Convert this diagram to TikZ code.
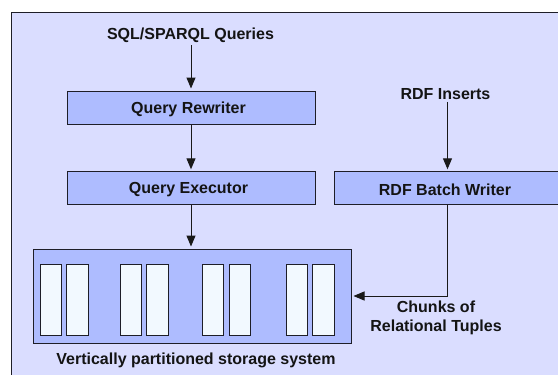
\documentclass[tikz,border=0pt]{standalone}
\usepackage{fontspec}
\setmainfont{Liberation Sans}
\usetikzlibrary{arrows.meta,positioning}
\definecolor{panelbg}{HTML}{DADDFF}
\definecolor{boxfill}{HTML}{AEBCFF}
\definecolor{colfill}{HTML}{F2F9FF}
\definecolor{inkline}{HTML}{1E1E28}
\tikzset{
  x=1pt,y=-1pt,
  labeltext/.style={font=\fontsize{16}{19}\selectfont\bfseries,text=black!92,inner sep=0pt,align=center},
  blockbox/.style={draw=inkline,line width=1pt,fill=boxfill,minimum height=33pt,inner sep=0pt},
  storebox/.style={draw=inkline,line width=1pt,fill=boxfill,inner sep=0pt,minimum width=318pt,minimum height=94pt},
  column/.style={draw=inkline,line width=1pt,fill=colfill,inner sep=0pt,minimum width=21.5pt,minimum height=71.5pt},
  flow/.style={draw=black!90,line width=1pt,-{Triangle[length=11pt,width=9pt]},shorten >=2pt}
}
\begin{document}
\begin{tikzpicture}
\useasboundingbox (0,0) rectangle (558,375);
\clip (0,0) rectangle (558,375);
\fill[panelbg,draw=inkline,line width=1pt] (11,12) rectangle (580,400);

\node[blockbox,minimum width=248pt,label={[labeltext,xshift=-2.5pt,yshift=-1.5pt]center:Query Rewriter}] (rw) at (191,107.5) {};
\node[blockbox,minimum width=248pt,label={[labeltext,xshift=-2.5pt,yshift=-1.5pt]center:Query Executor}] (ex) at (191,188.3) {};
\node[blockbox,minimum width=226pt,label={[labeltext,xshift=-2.5pt,yshift=-1.5pt]center:RDF Batch Writer}] (wr) at (447.5,188.3) {};
\node[storebox] (st) at (192,296) {};

\foreach \n/\cx in {c1/51,c2/77.5,c3/130.8,c4/157.3,c5/213.2,c6/239.8,c7/297,c8/323.3}
  \node[column] (\n) at (\cx,300.2) {};

\node[labeltext] (sql) at (190.5,35.5) {SQL/SPARQL Queries};
\node[labeltext] (ins) at (445.5,94) {RDF Inserts};
\node[labeltext] (chunks) at (436,318) {Chunks of\\Relational Tuples};
\node[labeltext] (vp) at (196,360.5) {Vertically partitioned storage system};

\coordinate (turn) at (wr.south |- st.east);
\draw[flow,shorten <=2pt] (sql.south -| rw.north) -- (rw.north);
\draw[flow] (rw.south) -- (ex.north);
\draw[flow] (ex.south) -- (ex.south |- st.north);
\draw[flow,shorten <=2pt] (ins.south -| wr.north) -- (wr.north);
\draw[flow] (wr.south) -- (turn) -- (st.east);
\end{tikzpicture}
\end{document}
